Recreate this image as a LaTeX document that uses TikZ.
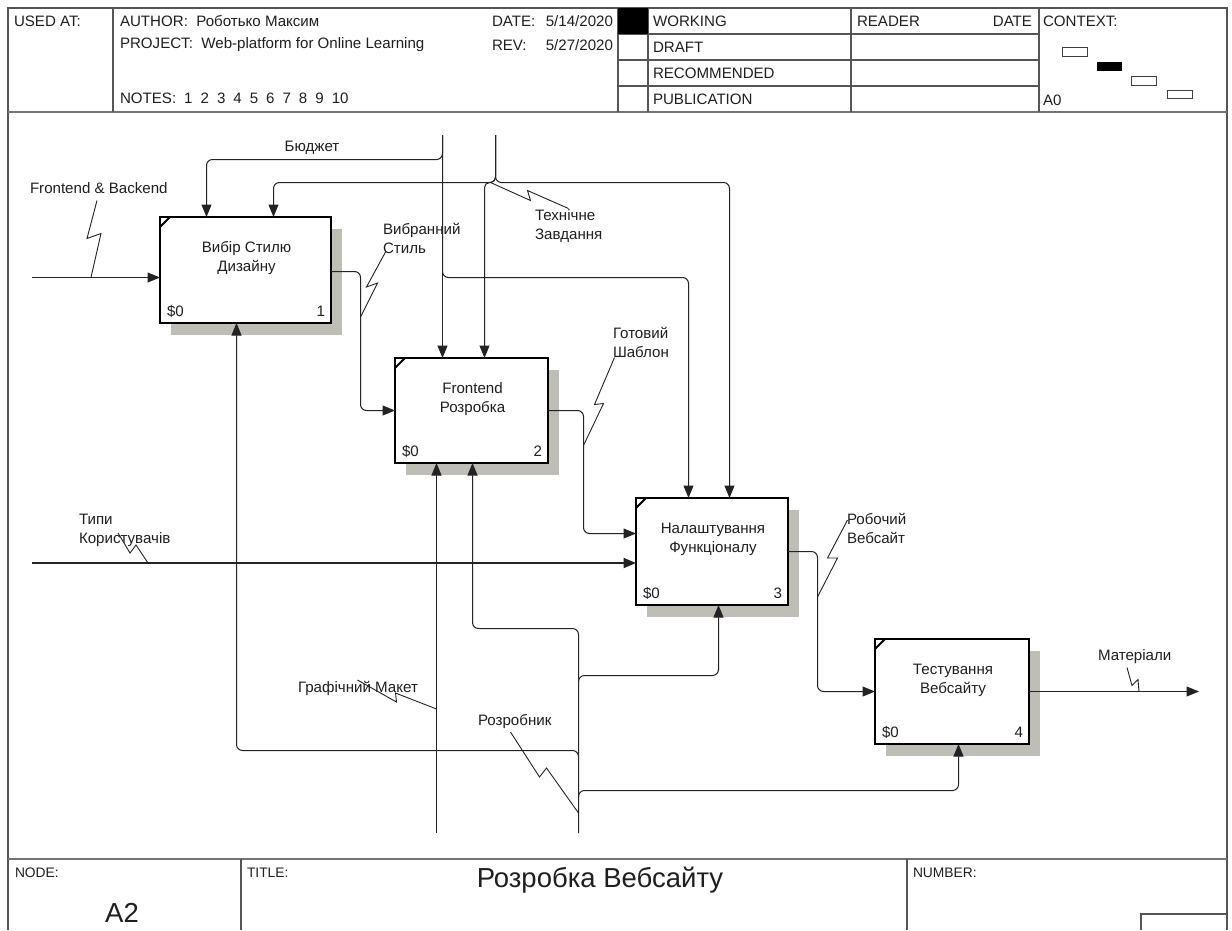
\documentclass[tikz,border=0pt]{standalone}
\usepackage{fontspec}
\setmainfont{Liberation Sans}
\usetikzlibrary{arrows.meta,calc,shadows}
\definecolor{shadowc}{RGB}{190,190,182}
\definecolor{linec}{RGB}{35,35,35}
\definecolor{framec}{RGB}{85,85,85}
\begin{document}
\begin{tikzpicture}[x=1pt,y=-1pt,
  every node/.style={inner sep=0pt, outer sep=0pt, text=black!88, font=\fontsize{15.1}{19}\selectfont},
  fbox/.style={draw=black, line width=2.2pt, fill=white, general shadow={fill=shadowc, shadow xshift=11pt, shadow yshift=-12pt}},
  conn/.style={draw=linec, line width=1pt, rounded corners=6pt},
  arr/.style={conn, -{Triangle[length=12.5pt,width=10pt]}},
  sq/.style={draw=linec, line width=0.9pt},
  frm/.style={draw=framec, line width=1.3pt},
  sep/.style={draw=black!55, line width=2.2pt},
  lab/.style={align=left, anchor=west},
  btxt/.style={align=center},
  big/.style={font=\fontsize{27.5}{31}\selectfont},
  corner/.style={draw=black, line width=2pt},
]
\useasboundingbox (0,0) rectangle (1232,930);
\fill[white] (0,0) rectangle (1232,930);

% ---------- frame and header ----------
\draw[frm] (8,930) -- (8,8) -- (1227,8) -- (1227,930);
\draw[sep] (8,112) -- (1227,112);
\draw[frm] (113,8) -- (113,112);
\draw[frm] (618,8) -- (618,112);
\draw[frm] (648,8) -- (648,112);
\draw[frm] (851,8) -- (851,112);
\draw[frm] (1039,8) -- (1039,112);
\draw[frm] (618,34) -- (1039,34);
\draw[frm] (618,60) -- (1039,60);
\draw[frm] (618,86) -- (1039,86);
\fill[black] (618,8) rectangle (648,34);

\node[lab] (usedat) at (14,21) {USED AT:};
\node[lab] (author) at (120,21) {AUTHOR:\ \ Роботько Максим};
\node[lab] (project) at (120,45) {PROJECT:\ \ Web-platform for Online Learning};
\node[lab] (notes) at (120,98) {NOTES:\hspace{8pt}1\hspace{8pt}2\hspace{8pt}3\hspace{8pt}4\hspace{8pt}5\hspace{8pt}6\hspace{8pt}7\hspace{8pt}8\hspace{8pt}9\hspace{8pt}10};
\node[lab] (datek) at (492,21) {DATE:};
\node[anchor=east] (datev) at (613,21) {5/14/2020};
\node[lab] (revk) at (492,45) {REV:};
\node[anchor=east] (revv) at (613,45) {5/27/2020};
\node[lab] (working) at (653,21) {WORKING};
\node[lab] (draft) at (653,47) {DRAFT};
\node[lab] (recom) at (653,73) {RECOMMENDED};
\node[lab] (publ) at (653,99) {PUBLICATION};
\node[lab] (reader) at (857,21) {READER};
\node[anchor=east] (rdate) at (1032,21) {DATE};
\node[lab] (context) at (1043,21) {CONTEXT:};
\node[lab] (a0) at (1043,100) {A0};
\draw[line width=0.9pt, draw=black!75] (1062,47) rectangle (1087,56);
\fill[black] (1097,62) rectangle (1122,71);
\draw[line width=0.9pt, draw=black!75] (1131,76) rectangle (1156,85);
\draw[line width=0.9pt, draw=black!75] (1167,90) rectangle (1192,98);

% ---------- footer ----------
\draw[sep] (8,859) -- (1227,859);
\draw[frm] (241,859) -- (241,930);
\draw[frm] (907,859) -- (907,930);
\draw[frm] (1141,930) -- (1141,914) -- (1227,914);
\node[lab, font=\fontsize{13.8}{16}\selectfont] (nodek) at (15,873) {NODE:};
\node[big] (nodev) at (122,913) {A2};
\node[lab, font=\fontsize{13.8}{16}\selectfont] (titlek) at (247,873) {TITLE:};
\node[big] (titlev) at (600,880) {Розробка Вебсайту};
\node[lab, font=\fontsize{13.8}{16}\selectfont] (numk) at (913,873) {NUMBER:};

% ---------- activity boxes ----------
\node[fbox, minimum width=171pt, minimum height=106pt, anchor=north west] (b1) at (160,217) {};
\node[fbox, minimum width=153pt, minimum height=105pt, anchor=north west] (b2) at (395,358) {};
\node[fbox, minimum width=152pt, minimum height=107pt, anchor=north west] (b3) at (636,498) {};
\node[fbox, minimum width=154pt, minimum height=105pt, anchor=north west] (b4) at (875,639) {};

\foreach \b/\n/\t in {b1/1/{Вибір Стилю\\Дизайну}, b2/2/{Frontend\\Розробка}, b3/3/{Налаштування\\Функціоналу}, b4/4/{Тестування\\Вебсайту}}{
  \node[btxt] (\b t) at ($(\b.north)+(1,41)$) {\t};
  \node[anchor=west] (\b s) at ($(\b.south west)+(7,-12)$) {\$0};
  \node[anchor=east] (\b n) at ($(\b.south east)+(-6,-12)$) {\n};
  \draw[corner] ($(\b.north west)+(0,10)$) -- ($(\b.north west)+(10,0)$);
}

% ---------- free ends and levels ----------
\coordinate (tB) at (442.5,135);
\coordinate (tT) at (495.5,135);
\coordinate (iF) at (32,277.5);
\coordinate (iT) at (32,563);
\coordinate (mG) at (436.5,833);
\coordinate (mR) at (578.5,833);
\coordinate (lv1) at (0,159.5);
\coordinate (lv2) at (0,182.5);
\coordinate (lv3) at (0,277.5);
\coordinate (lv4) at (0,628.5);
\coordinate (lv5) at (0,675.5);
\coordinate (lv6) at (0,750.5);
\coordinate (lv7) at (0,790.5);

% ---------- box ports ----------
\coordinate (b1c1) at ($(b1.north west)+(46.5,0)$);
\coordinate (b1c2) at ($(b1.north west)+(113.5,0)$);
\coordinate (b2c1) at (b2.north -| tB);
\coordinate (b2c2) at ($(b2.north west)+(89.5,0)$);
\coordinate (b3c1) at ($(b3.north west)+(52.5,0)$);
\coordinate (b3c2) at ($(b3.north west)+(93.5,0)$);
\coordinate (b1i) at (b1.west |- iF);
\coordinate (b1o) at ($(b1.east)+(0,1.5)$);
\coordinate (b3i1) at ($(b3.west)+(0,-18)$);
\coordinate (b3i2) at ($(b3.west)+(0,11.5)$);
\coordinate (b1m) at ($(b1.south west)+(76.5,0)$);
\coordinate (b2m1) at (b2.south -| mG);
\coordinate (b2m2) at ($(b2.south west)+(77.5,0)$);
\coordinate (b3m) at ($(b3.south west)+(82.5,0)$);
\coordinate (b4m) at ($(b4.south west)+(83.5,0)$);
\coordinate (oM) at ($(b4.east)+(170,0)$);

% ---------- controls ----------
\draw[arr] (tB) -- (b2c1);
\draw[arr] (tB) |- (b1c1 |- lv1) -- (b1c1);
\draw[arr] (tB) |- (b3c1 |- lv3) -- (b3c1);
\draw[arr] (tT) |- (b1c2 |- lv2) -- (b1c2);
\draw[arr] (tT) |- (b3c2 |- lv2) -- (b3c2);
\draw[arr, rounded corners=5pt] (tT) |- (b2c2 |- lv2) -- (b2c2);

% ---------- inputs / outputs ----------
\draw[arr] (iF) -- (b1i);
\draw[arr] (b1o) -| ($(b2.west)+(-34.5,0)$) -- (b2.west);
\draw[arr] (b2.east) -| ($(b3i1)+(-52.5,0)$) -- (b3i1);
\draw[arr, line width=2pt] (iT) -- (b3i2);
\draw[arr] (b3.east) -| ($(b4.west)+(-57.5,0)$) -- (b4.west);
\draw[arr] (b4.east) -- (oM);

% ---------- mechanisms ----------
\draw[arr] (mG) -- (b2m1);
\draw[arr] (mR) |- (b2m2 |- lv4) -- (b2m2);
\draw[arr] ($(mR |- lv5)+(0,6)$) -- (mR |- lv5) -| (b3m);
\draw[arr] ($(mR |- lv6)+(0,6)$) -- (mR |- lv6) -| (b1m);
\draw[arr] ($(mR |- lv7)+(0,6)$) -- (mR |- lv7) -| (b4m);

% ---------- labels ----------
\node[lab] (lFB) at (30,188) {Frontend \& Backend};
\node (lBud) at (312,148) {Бюджет};
\node[lab] (lVS) at (383,238.5) {Вибранний\\Стиль};
\node[lab] (lTZ) at (535,226.5) {Технічне\\Завдання};
\node[lab] (lGS) at (613,342.5) {Готовий\\Шаблон};
\node[lab] (lTK) at (79,530.5) {Типи\\Користувачів};
\node[lab] (lRW) at (847,528.5) {Робочий\\Вебсайт};
\node[lab] (lMat) at (1098,657) {Матеріали};
\node[lab] (lGM) at (298,688) {Графічний Макет};
\node[lab] (lRoz) at (478,722) {Розробник};

% ---------- squiggles ----------
\draw[sq] ($(iF)+(59,0)$) -- ++(10,-44) -- ++(-14,5) -- ++(10,-38);
\draw[sq] ($(b2.west)+(-34.5,-93.5)$) -- ++(17,-34) -- ++(-11,4) -- ++(19,-35);
\draw[sq] ($(tT |- lv2)+(-5,0)$) -- ++(40,18) -- ++(-3,-10) -- ++(41,18);
\draw[sq] ($(b3i1)+(-52.5,-88)$) -- ++(20,-42) -- ++(-9,1) -- ++(20,-47);
\draw[sq] ($(iT)+(116,0)$) -- ++(-12,-18) -- ++(-6,8) -- ++(-12,-20);
\draw[sq] ($(b4.west)+(-57.5,-94.5)$) -- ++(20,-39) -- ++(-10,0) -- ++(20,-38);
\draw[sq] ($(b4.east)+(110,0)$) -- ++(-1,-12) -- ++(-6,6) -- ++(-5,-18);
\draw[sq] ($(mG)+(0,-124)$) -- ++(-41,-16) -- ++(1,9) -- ++(-39,-22);
\draw[sq] ($(mR)+(0,-20)$) -- ++(-32,-45) -- ++(-7,9) -- ++(-29,-45);
\end{tikzpicture}
\end{document}
